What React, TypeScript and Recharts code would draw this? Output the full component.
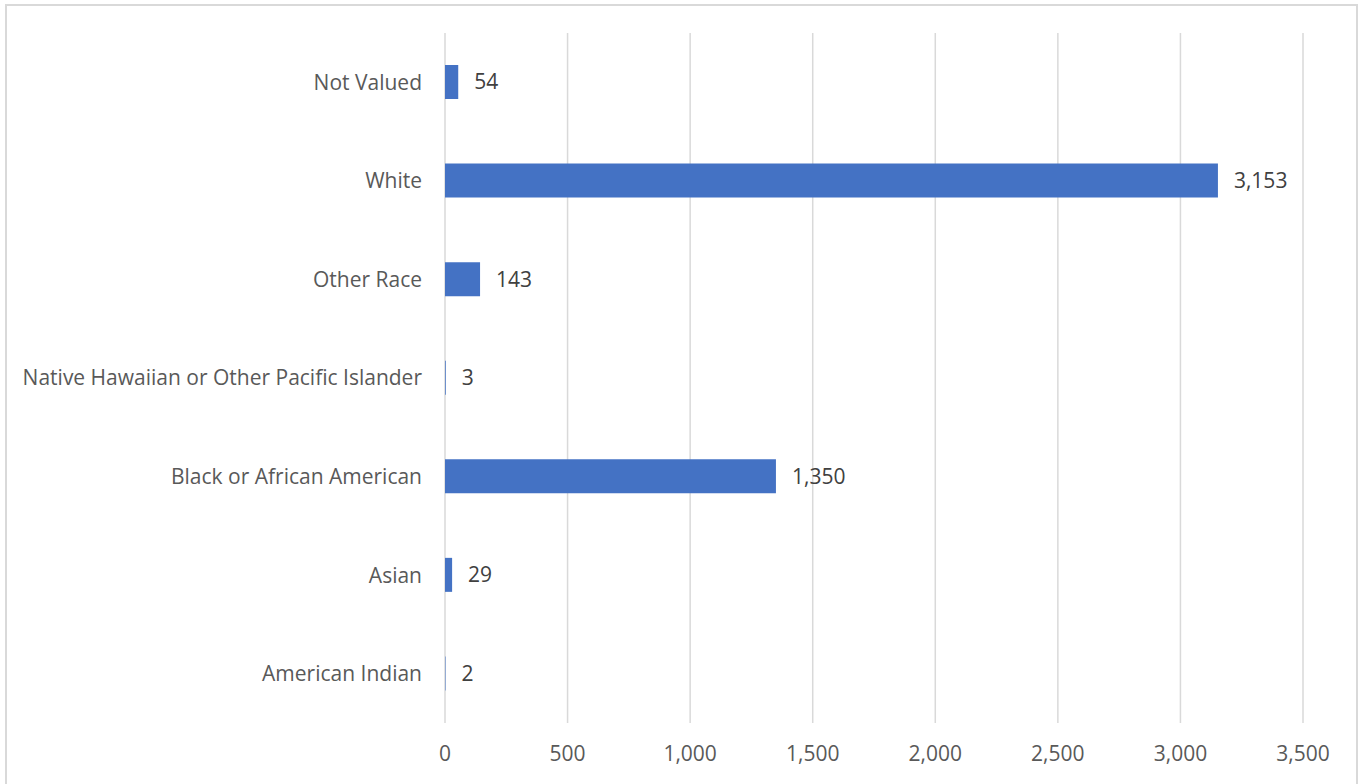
import React from 'react';
import { BarChart, Bar, XAxis, YAxis, CartesianGrid, LabelList } from 'recharts';

const categories = [
  'Not Valued',
  'White',
  'Other Race',
  'Native Hawaiian or Other Pacific Islander',
  'Black or African American',
  'Asian',
  'American Indian',
];
const counts = [54, 3153, 143, 3, 1350, 29, 2];
const xTicks = [0, 500, 1000, 1500, 2000, 2500, 3000, 3500];

const data = categories.map((name, i) => ({ name, value: counts[i] }));
const fmt = (v: number) => v.toLocaleString('en-US');
const FONT = '"Open Sans", "Noto Sans", sans-serif';

export default function App() {
  return (
    <div style={{ position: 'absolute', left: 0, top: 0, width: 1362, height: 784, overflow: 'hidden', background: '#fff', fontFamily: FONT }}>
      <div style={{ position: 'absolute', left: 5, top: 4, width: 1353, height: 800, border: '2px solid #d9d9d9', boxSizing: 'border-box' }} />
      <div style={{ position: 'absolute', left: 0, top: 0 }}>
        <BarChart
          width={1362}
          height={784}
          data={data}
          layout="vertical"
          margin={{ top: 33, right: 59, bottom: 31, left: 0 }}
          barCategoryGap={0}
        >
          <CartesianGrid horizontal={false} vertical={true} stroke="#d9d9d9" strokeWidth={1.5} />
          <XAxis
            type="number"
            domain={[0, 3500]}
            ticks={xTicks}
            tickFormatter={fmt}
            axisLine={false}
            tickLine={false}
            height={30}
            tickMargin={17}
            interval={0}
            tick={{ fill: '#595959', fontSize: 21, fontFamily: FONT }}
          />
          <YAxis
            type="category"
            dataKey="name"
            width={445}
            axisLine={false}
            tickLine={false}
            tickMargin={17}
            interval={0}
            tick={{ fill: '#595959', fontSize: 21, fontFamily: FONT }}
          />
          <Bar dataKey="value" fill="#4472C4" barSize={34} isAnimationActive={false}>
            <LabelList
              dataKey="value"
              position="right"
              offset={16}
              formatter={(v: any) => fmt(Number(v))}
              style={{ fill: '#404040', fontSize: 21, fontFamily: FONT }}
            />
          </Bar>
        </BarChart>
      </div>
    </div>
  );
}
